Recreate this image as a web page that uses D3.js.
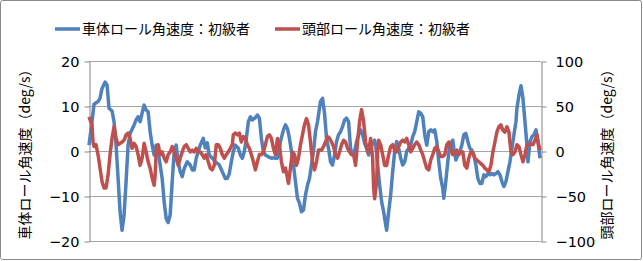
<!DOCTYPE html>
<html>
<head>
<meta charset="utf-8">
<script src="https://cdn.jsdelivr.net/npm/d3@7"></script>
<style>
  body { margin: 0; background: #fff; }
  svg text { font-family: "DejaVu Sans", Verdana, sans-serif; fill: #000; }
  .jp { font-family: "Noto Sans CJK JP", sans-serif; }
</style>
</head>
<body>
<script>
// sample positions (0..451) and values
const bodyT = [0,3,5,9,11,13,16,18,20,23,25,27,29,31,33,35,37,39,41,45,47,49,51,53,55,57,59,61,63,65,67,69,71,73,75,77,79,81,83,85,87,89,91,93,95,98,101,103,105,107,109,111,114,116,118,120,123,126,130,133,136,138,140,142,144,146,149,151,153,155,157,159,161,163,166,168,170,172,174,176,179,182,184,186,188,191,194,196,198,200,202,204,206,208,210,212,214,216,218,220,222,224,226,228,230,231,233,235,237,239,241,243,245,247,249,251,253,255,257,259,261,263,265,267,269,271,273,275,277,279,281,283,285,286,288,290,292,294,296,297,299,301,303,305,307,309,311,313,315,317,319,321,323,325,327,329,331,333,335,337,339,341,343,345,347,349,351,353,354,356,358,360,362,363,364,366,368,370,372,374,376,378,380,382,384,386,388,390,392,394,396,398,400,402,404,406,408,410,412,414,416,418,420,422,424,426,427,429,431,433,435,437,438,440,442,444,446,448,450];
const bodyV = [1.3,6.5,10.4,11,11.7,13.9,15.3,14.7,9.5,8.9,6.5,1.3,-6,-13.5,-17.6,-14.2,-6.8,1.3,3.9,5.8,6.9,7.6,6.5,8.4,10.2,9.1,8.7,4.3,1.3,-0.9,1.3,-0.1,-3.1,-6.1,-11.3,-15,-15.9,-14.2,-6.8,-0.1,1.3,-2.4,-4.6,-5.7,-3.9,-2.4,-3.1,-4.2,-4.2,-1.6,-0.1,1.3,2.8,0.7,1.8,-0.9,-1.6,-2.4,-3.1,-4.6,-6.1,-6.1,-5,-2.4,-0.1,1.3,0.6,-0.9,-1.6,-0.1,2.8,6.5,7.6,6.9,7.4,8,7.3,2.8,-0.1,-0.9,-1.3,-1.6,-1.5,-1.6,-1.6,2.1,4.7,5.8,5,2.8,-0.1,-3.1,-6.8,-10.5,-11.6,-13.5,-13.1,-9.8,-7.6,-6.1,-3.1,-0.1,4.3,6.5,9.5,11,11.7,8.4,2.8,0.6,-2.4,-3.1,-0.9,2.1,3.6,4.3,5.4,6.9,7.3,6.5,0.6,-0.9,-0.1,2.1,3.6,4.7,3.6,1.7,0.6,-0.9,0.6,1.7,2.4,1.3,-3.1,-7.6,-11.3,-13.5,-16.4,-17.6,-13.5,-9.8,-4.6,-0.1,2.1,0.6,-1.6,-3.1,-2.4,-0.1,0.6,1.3,3.2,4.3,6.5,8.7,8.4,7.6,3.6,1.3,4.3,4.7,4.3,4.7,2.1,-2.4,-6.1,-8.3,-10.5,-6.8,-2.4,1.3,2.1,2.4,0.6,-2,-0.9,-0.1,1.3,3.6,3.9,2.1,0.6,0.2,-0.9,-3.1,-6.1,-7.2,-7.2,-5.3,-5.7,-5,-5.3,-5,-5.3,-5,-4.6,-5.3,-6.8,-7.9,-6.8,-4.6,-2.4,0.6,3.6,6.5,9.5,12.4,14.5,11.7,6.5,1.3,-2.4,2.1,3.2,3.6,4.7,2.1,-1.6];

const headT = [0,3,4,5,7,9,11,13,15,17,19,21,23,25,27,29,31,33,35,37,39,41,43,45,47,49,51,53,55,57,59,61,63,65,66,67,69,71,73,75,77,79,81,83,85,87,89,91,93,95,97,99,101,103,105,107,109,111,113,115,117,119,121,123,125,127,129,131,133,135,137,139,141,143,144,146,148,150,152,154,156,158,160,162,164,166,168,170,172,174,176,178,180,182,184,186,188,190,192,194,196,198,199,201,203,205,207,209,211,213,215,217,219,221,223,225,227,229,232,234,236,238,240,242,244,246,248,250,252,254,256,258,260,262,264,266,268,270,272,274,276,278,280,281,283,284,285,287,288,289,291,293,295,297,299,301,303,305,307,309,311,313,315,317,319,321,323,325,327,329,331,333,335,337,339,341,343,345,347,349,351,353,355,357,359,361,363,365,367,369,371,373,375,377,379,381,383,385,387,389,391,393,395,397,399,401,403,405,407,409,411,413,415,417,419,421,423,425,427,429,431,433,435,437,439,441,443,445,447,448,450];
const headV = [38,29,10,5,7,-4,-19,-34,-41,-41,-27,-4,14,27,14,7,8.5,10,12,18,20,14,3,8.5,5,-4,-16,-8,8.5,-1,-12,-19,-30,-38,-27,-1,7,-4,-1,-8,-12,-4,-1,5,-1,-8,-16,-8,-1,5,7,3,-1,1,-1,3,-1,-1,-4,-8,-4,-12,-19,-21,-16,7,7,3,-4,-8,-4,-1,3,7,18,20,18,20,10,16,14,7,3,-4,-12,-21,-12,-4,-4,-1,7,16,18,14,3,-4,14,7,-12,-23,-19,-30,-36,-19,-1,-4,-16,-8,7,18,29,36,29,10,-12,-21,-12,1,1,5,10,16,14,10,5,-4,-8,-1,7,12,10,3,-1,-4,-4,-16,10,33,46,33,10,-1,7,14,-8,-41,-53,-34,-1,12,7,-4,-16,-16,-4,5,7,1,-1,5,10,12,10,14,7,-1,3,7,10,7,1,-4,-12,-19,-21,-10,-4,3,5,-1,-6,-6,-4,7,10,3,-4,-4,1,-4,-1,-1,-16,-19,-8,-1,-2,-8,-10,-12,-14,-16,-19,-21,-23,-16,-1,10,21,27,29,23,21,27,21,-1,-4,-1,7,5,-4,-12,-4,7,7,8,7,12,18,10,1];

const leftTicks = [-20, -10, 0, 10, 20];
const rightTicks = [-100, -50, 0, 50, 100];
const seriesNames = ["車体ロール角速度：初級者", "頭部ロール角速度：初級者"];
const axisTitles = ["車体ロール角速度（deg/s）", "頭部ロール角速度（deg/s）"];

const WIDTH = 643, HEIGHT = 261;
const PLOT = { left: 89, right: 541, top: 61, bottom: 241 };
const BLUE = "#4f81bd", RED = "#c0504d";

const svg = d3.select("body").append("svg")
  .attr("width", WIDTH).attr("height", HEIGHT);

// chart frame
svg.append("rect")
  .attr("x", 0.5).attr("y", 0.5)
  .attr("width", WIDTH - 2).attr("height", HEIGHT - 2)
  .attr("rx", 2)
  .attr("fill", "#fff").attr("stroke", "#898989");

const x = d3.scaleLinear().domain([0, 451]).range([PLOT.left, PLOT.right]);
const yL = d3.scaleLinear().domain([-20, 20]).range([PLOT.bottom, PLOT.top]);
const yR = d3.scaleLinear().domain([-100, 100]).range([PLOT.bottom, PLOT.top]);

// gridlines
svg.append("g").selectAll("line")
  .data(leftTicks).enter().append("line")
  .attr("x1", PLOT.left).attr("x2", PLOT.right)
  .attr("y1", d => Math.round(yL(d)) + 0.5).attr("y2", d => Math.round(yL(d)) + 0.5)
  .attr("stroke", "#a6a6a6");

// left axis
const axL = svg.append("g")
  .attr("transform", `translate(${PLOT.left + 0.5},0.5)`)
  .call(d3.axisLeft(yL).tickValues(leftTicks).tickSize(5).tickPadding(5).tickSizeOuter(0));
axL.selectAll("text").style("font-size", "14.5px");

// right axis
const axR = svg.append("g")
  .attr("transform", `translate(${PLOT.right + 0.5},0.5)`)
  .call(d3.axisRight(yR).tickValues(rightTicks).tickSize(5).tickPadding(9).tickSizeOuter(0));
axR.selectAll("text").style("font-size", "14.5px");

svg.selectAll(".domain, .tick line").attr("stroke", "#868686");
svg.selectAll(".tick text").attr("fill", "#000");

// lines
const bodyLine = d3.line().x((d, i) => x(bodyT[i])).y(d => yL(d));
const headLine = d3.line().x((d, i) => x(headT[i])).y(d => yR(d));

svg.append("path").datum(bodyV)
  .attr("d", bodyLine)
  .attr("fill", "none").attr("stroke", BLUE)
  .attr("stroke-width", 3.5).attr("stroke-linejoin", "round");

svg.append("path").datum(headV)
  .attr("d", headLine)
  .attr("fill", "none").attr("stroke", RED)
  .attr("stroke-width", 3.5).attr("stroke-linejoin", "round");

// axis titles
svg.append("text").attr("class", "jp")
  .attr("transform", `translate(30,${(PLOT.top + PLOT.bottom) / 2}) rotate(-90)`)
  .attr("text-anchor", "middle")
  .style("font-size", "14px")
  .text(axisTitles[0]);

svg.append("text").attr("class", "jp")
  .attr("transform", `translate(612,${(PLOT.top + PLOT.bottom) / 2}) rotate(-90)`)
  .attr("text-anchor", "middle")
  .style("font-size", "14px")
  .text(axisTitles[1]);

// legend
const legend = [
  { name: seriesNames[0], color: BLUE, x: 55 },
  { name: seriesNames[1], color: RED, x: 275 }
];
const lg = svg.append("g").selectAll("g")
  .data(legend).enter().append("g")
  .attr("transform", d => `translate(${d.x},29)`);
lg.append("line")
  .attr("x1", 0).attr("x2", 25)
  .attr("stroke", d => d.color).attr("stroke-width", 3.5);
lg.append("text").attr("class", "jp")
  .attr("x", 27).attr("dy", "0.36em")
  .style("font-size", "14px")
  .text(d => d.name);
</script>
</body>
</html>
